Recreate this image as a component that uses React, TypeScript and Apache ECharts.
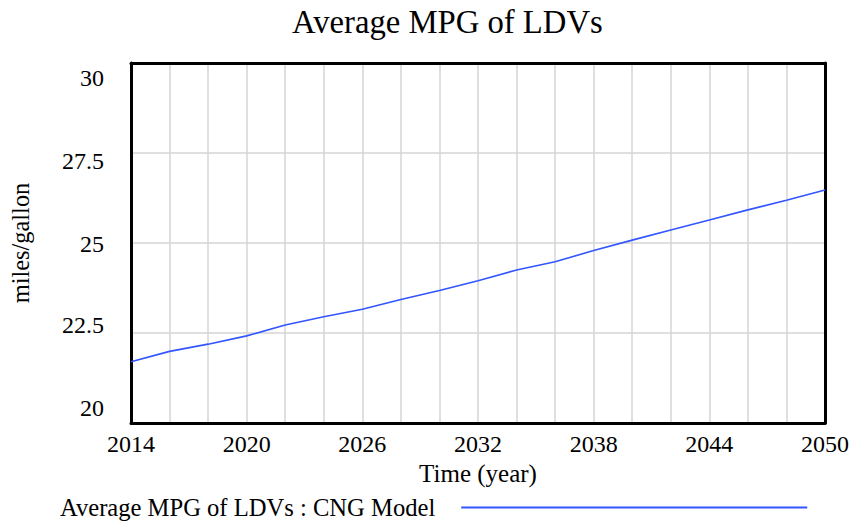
import React, { useEffect, useRef } from "react";
import * as echarts from "echarts";

const years = [2014, 2016, 2018, 2020, 2022, 2024, 2026, 2028, 2030, 2032, 2034, 2036, 2038, 2040, 2042, 2044, 2046, 2048, 2050];
const mpgValues = [21.7, 21.99, 22.19, 22.42, 22.72, 22.95, 23.16, 23.43, 23.68, 23.95, 24.25, 24.48, 24.79, 25.08, 25.36, 25.64, 25.92, 26.19, 26.47];
const xLabelYears = [2014, 2020, 2026, 2032, 2038, 2044, 2050];
const yTickLabels = ["20", "22.5", "25", "27.5", "30"];
const titleText = "Average MPG of LDVs";
const seriesName = "Average MPG of LDVs : CNG Model";
const xName = "Time (year)";
const yName = "miles/gallon";

const FONT = "'Liberation Serif', 'Times New Roman', serif";
const labelStyle = { fontFamily: FONT, fontSize: 24, color: "#000" };

export default function App() {
  const ref = useRef<HTMLDivElement>(null);
  useEffect(() => {
    if (!ref.current) return;
    const chart = echarts.init(ref.current, undefined, { renderer: "svg" });
    const frameLine = { show: true, onZero: false, lineStyle: { color: "#000", width: 3 } };
    chart.setOption({
      animation: false,
      backgroundColor: "#ffffff",
      textStyle: { fontFamily: FONT, color: "#000" },
      title: {
        text: titleText,
        left: 292,
        top: 5,
        padding: 0,
        textStyle: { fontFamily: FONT, fontSize: 32.7, fontWeight: "normal", color: "#000" },
      },
      legend: {
        left: 55,
        top: 490,
        align: "right",
        icon: "rect",
        itemWidth: 346,
        itemHeight: 2,
        data: [seriesName],
        textStyle: { fontFamily: FONT, fontSize: 24.6, color: "#000", padding: [0, 21, 0, 0] },
      },
      grid: {
        left: 131,
        right: 26,
        top: 63,
        bottom: 98,
        show: false,
      },
      xAxis: [
        {
          type: "value",
          position: "bottom",
          min: 2014,
          max: 2050,
          interval: 2,
          name: xName,
          nameLocation: "middle",
          nameGap: 38,
          nameTextStyle: { fontFamily: FONT, fontSize: 25, color: "#000" },
          axisLine: frameLine,
          axisTick: { show: false },
          axisLabel: {
            ...labelStyle,
            margin: 9,
            showMinLabel: true,
            showMaxLabel: true,
            formatter: (v: number) => (xLabelYears.indexOf(v) >= 0 ? String(v) : ""),
          },
          splitLine: { show: true, lineStyle: { color: "#d4d4d4", width: 1.5 } },
          z: 3,
        },
        {
          type: "value",
          position: "top",
          min: 2014,
          max: 2050,
          interval: 2,
          axisLine: frameLine,
          axisTick: { show: false },
          axisLabel: { show: false },
          splitLine: { show: false },
          z: 3,
        },
      ],
      yAxis: [
        {
          type: "value",
          position: "left",
          min: 20,
          max: 30,
          interval: 2.5,
          name: yName,
          nameLocation: "middle",
          nameGap: 99,
          nameTextStyle: { fontFamily: FONT, fontSize: 24.4, color: "#000" },
          axisLine: frameLine,
          axisTick: { show: false },
          axisLabel: {
            ...labelStyle,
            margin: 27,
            formatter: (v: number) => {
              const i = Math.round((v - 20) / 2.5);
              return "{s" + i + "|" + yTickLabels[i] + "}";
            },
            rich: {
              s0: { ...labelStyle, padding: [0, 0, 30, 0] },
              s1: { ...labelStyle, padding: [0, 0, 16, 0] },
              s2: { ...labelStyle, padding: [2, 0, 0, 0] },
              s3: { ...labelStyle, padding: [16, 0, 0, 0] },
              s4: { ...labelStyle, padding: [29, 0, 0, 0] },
            },
          },
          splitLine: { show: true, lineStyle: { color: "#d4d4d4", width: 1.5 } },
          z: 3,
        },
        {
          type: "value",
          position: "right",
          min: 20,
          max: 30,
          interval: 2.5,
          axisLine: frameLine,
          axisTick: { show: false },
          axisLabel: { show: false },
          splitLine: { show: false },
          z: 3,
        },
      ],
      series: [
        {
          name: seriesName,
          type: "line",
          xAxisIndex: 0,
          yAxisIndex: 0,
          data: years.map((y, i) => [y, mpgValues[i]]),
          showSymbol: false,
          symbol: "none",
          lineStyle: { color: "#3355ff", width: 1.6 },
          itemStyle: { color: "#3355ff" },
          z: 5,
        },
      ],
    });
    return () => chart.dispose();
  }, []);
  return <div ref={ref} style={{ position: "fixed", left: 0, top: 0, width: 852, height: 521 }} />;
}
